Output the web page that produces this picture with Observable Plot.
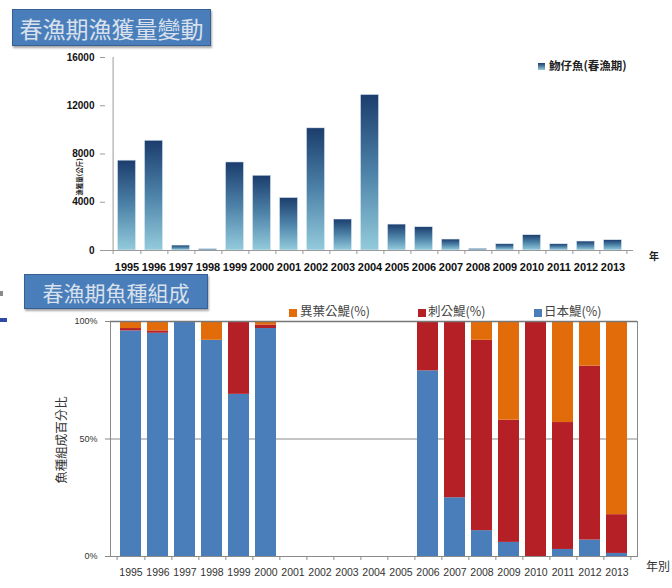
<!DOCTYPE html>
<html><head><meta charset="utf-8">
<script src="https://cdn.jsdelivr.net/npm/d3@7"></script>
<script src="https://cdn.jsdelivr.net/npm/@observablehq/plot@0.6"></script>
<style>
body{margin:0;background:#fff;}
#root{position:relative;width:672px;height:588px;overflow:hidden;font-family:"Liberation Sans","Noto Sans CJK TC",sans-serif;}
.title{position:absolute;background:#4a7ebb;border:1px solid #375f92;box-shadow:1px 2px 2px rgba(0,0,0,.35);color:#d9e1ec;font-family:"Noto Sans CJK TC",sans-serif;display:flex;align-items:center;justify-content:center;box-sizing:border-box;z-index:5;}
.abs{position:absolute;white-space:nowrap;line-height:1;}
.sq{position:absolute;width:8px;height:8px;}
svg{position:absolute;left:0;overflow:visible;}
</style></head><body><div id="root"></div><script>
// ---- data ----
const years = [1995,1996,1997,1998,1999,2000,2001,2002,2003,2004,2005,2006,2007,2008,2009,2010,2011,2012,2013];
const catchKg = [7450,9100,410,110,7300,6200,4360,10130,2570,12900,2150,1930,910,140,520,1270,520,745,855];
const topTicks = [0,4000,8000,12000,16000];
const japaneseAnchovyPct = [96,95,100,92,69,97,0,0,0,0,0,79,25,11,6,0,3,7,1.3];
const ciAnchovyPct       = [1,1,0,0,31,1.5,0,0,0,0,0,21,75,81,52,100,54,74,16.5];
const yiyeAnchovyPct     = [3,4,0,8,0,1.5,0,0,0,0,0,0,0,8,42,0,43,19,82.2];
const speciesNames = ["日本鯷(%)","刺公鯷(%)","異葉公鯷(%)"];
const speciesColors = ["#4a7ebb","#b51f26","#e36c0a"];
const bottomTicks = [0,50,100];
const topTitle = "春漁期漁獲量變動";
const bottomTitle = "春漁期魚種組成";
const topLegend = "魩仔魚(春漁期)";
const topYLabel = "漁獲量(公斤)";
const bottomYLabel = "魚種組成百分比";

const root = document.getElementById("root");
function add(html){ root.insertAdjacentHTML("beforeend", html); }

// ---- top chart ----
const W = 672;
const t = {top:57, bottom:30, left:105, right:39, h:280};
const step1 = (W - t.left - t.right) / years.length;
const topData = years.map((y,i)=>({year:y, kg:catchKg[i]}));
const axisGray = "#9a9a9a";
const svg1 = Plot.plot({
  width: W, height: t.h,
  marginTop: t.top, marginBottom: t.bottom, marginLeft: t.left, marginRight: t.right,
  style: {fontFamily: "Liberation Sans, sans-serif", color: "#111", background: "transparent"},
  x: {domain: years, padding: 0, axis: null},
  y: {domain: [0,16000], axis: null},
  marks: [
    Plot.barY(topData, {x:"year", y:"kg", fill:"url(#barGrad)", insetLeft:4.4, insetRight:4.4, stroke:"#e4edf3", strokeWidth:0.6}),
    Plot.ruleY([0], {stroke: axisGray}),
    Plot.ruleX([years[0]], {dx: -step1/2, stroke: axisGray}),
    Plot.axisY({ticks: topTicks, tickFormat: d=>String(d), tickSize: 5, tickPadding: 6, fontSize: 10, fontWeight: "bold", label: null, stroke: axisGray}),
    Plot.axisX({tickSize: 0, tickPadding: 13, fontSize: 11, fontWeight: "bold", label: null, tickFormat: d=>String(d)}),
    Plot.axisX({tickSize: 4, tickFormat: ()=>"", dx: step1/2, label: null, stroke: axisGray}),
    Plot.axisX({ticks: [years[0]], tickSize: 4, tickFormat: ()=>"", dx: -step1/2, label: null, stroke: axisGray})
  ]
});
svg1.style.top = "0px";
const defs = d3.select(svg1).insert("defs", ":first-child");
const grad = defs.append("linearGradient").attr("id","barGrad").attr("x1",0).attr("y1",0).attr("x2",0).attr("y2",1);
grad.append("stop").attr("offset","0%").attr("stop-color","#1b3d6d");
grad.append("stop").attr("offset","50%").attr("stop-color","#4d82a8");
grad.append("stop").attr("offset","100%").attr("stop-color","#93cbdc");
root.appendChild(svg1);

// ---- bottom chart ----
const b = {svgTop:300, top:21, bottom:32, left:110, right:35, h:288};
const step2 = (W - b.left - b.right) / years.length;
const rows = [];
years.forEach((y,i)=>{
  rows.push({year:y, species:speciesNames[0], pct:japaneseAnchovyPct[i]});
  rows.push({year:y, species:speciesNames[1], pct:ciAnchovyPct[i]});
  rows.push({year:y, species:speciesNames[2], pct:yiyeAnchovyPct[i]});
});
const gridGray = "#8a8a8a";
const svg2 = Plot.plot({
  width: W, height: b.h,
  marginTop: b.top, marginBottom: b.bottom, marginLeft: b.left, marginRight: b.right,
  style: {fontFamily: "Liberation Sans, sans-serif", color: "#333", background: "transparent"},
  x: {domain: years, padding: 0, axis: null},
  y: {domain: [0,100], axis: null},
  color: {domain: speciesNames, range: speciesColors},
  marks: [
    Plot.ruleY([50], {stroke: gridGray}),
    Plot.barY(rows, {x:"year", y:"pct", fill:"species", insetLeft:3, insetRight:3}),
    Plot.frame({stroke: gridGray}),
    Plot.ruleY([100], {stroke: "#777", strokeWidth: 1.5}),
    Plot.axisY({ticks: bottomTicks, tickFormat: d=>d+"%", tickSize: 5, tickPadding: 8, fontSize: 9, label: null, stroke: gridGray}),
    Plot.axisX({tickSize: 0, tickPadding: 12, fontSize: 10.5, label: null, tickFormat: d=>String(d)}),
    Plot.axisX({tickSize: 4, tickFormat: ()=>"", dx: step2/2, label: null, stroke: gridGray}),
    Plot.axisX({ticks: [years[0]], tickSize: 4, tickFormat: ()=>"", dx: -step2/2, label: null, stroke: gridGray})
  ]
});
svg2.style.top = b.svgTop + "px";
root.appendChild(svg2);

// ---- titles, labels, legends ----
add(`<div class="title" style="left:12px;top:9px;width:199px;height:37px;font-size:23px;">${topTitle}</div>`);
add(`<div class="title" style="left:24px;top:274px;width:184px;height:35px;font-size:21px;">${bottomTitle}</div>`);

add(`<div class="sq" style="left:538px;top:63px;width:7px;height:7px;background:linear-gradient(#1b3d6d,#93cbdc);"></div>`);
add(`<div class="abs" style="left:549px;top:60px;font-size:11.5px;font-weight:bold;color:#222;font-family:'Noto Sans CJK TC',sans-serif;">${topLegend}</div>`);

add(`<div class="abs" style="left:79px;top:177px;transform:translate(-50%,-50%) rotate(-90deg);font-size:6.5px;font-weight:bold;color:#222;font-family:'Noto Sans CJK TC',sans-serif;">${topYLabel}</div>`);
add(`<div class="abs" style="left:61px;top:440px;transform:translate(-50%,-50%) rotate(-90deg);font-size:12.5px;color:#333;font-family:'Noto Sans CJK TC',sans-serif;">${bottomYLabel}</div>`);

add(`<div class="abs" style="left:649px;top:251px;font-size:10px;font-weight:bold;color:#222;font-family:'Noto Sans CJK TC',sans-serif;">年</div>`);
add(`<div class="abs" style="left:646px;top:560px;font-size:12px;color:#333;font-family:'Noto Sans CJK TC',sans-serif;">年別</div>`);

// bottom legend: orange, red, blue order as in reference
const legendPos = [{i:2, sq:289, tx:300}, {i:1, sq:418, tx:428}, {i:0, sq:534, tx:544}];
legendPos.forEach(p=>{
  add(`<div class="sq" style="left:${p.sq}px;top:309px;background:${speciesColors[p.i]};"></div>`);
  add(`<div class="abs" style="left:${p.tx}px;top:305px;font-size:12.5px;color:#444;font-family:'Noto Sans CJK TC',sans-serif;">${speciesNames[p.i]}</div>`);
});

// small edge fragments visible at the left border of the reference
add(`<div class="abs" style="left:0;top:291px;width:3px;height:5px;background:#8a8a8a;"></div>`);
add(`<div class="abs" style="left:0;top:318px;width:7px;height:4px;background:#2f49a8;"></div>`);
</script></body></html>
